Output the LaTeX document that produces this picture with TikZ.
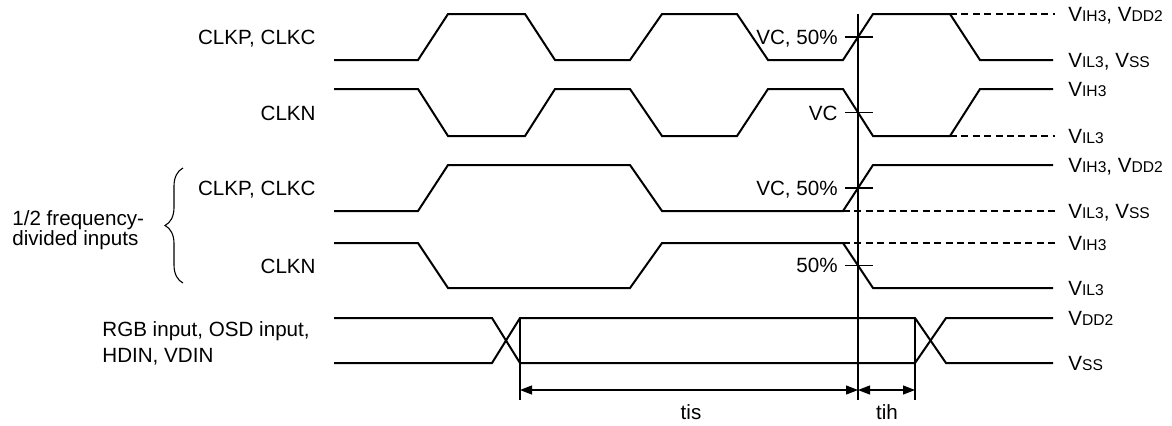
\documentclass[tikz,border=0pt]{standalone}
\usepackage{fontspec}
\setmainfont{Liberation Sans}
\usetikzlibrary{arrows.meta,decorations.pathreplacing}
\newcommand\vsub[1]{{\fontsize{7.8}{9}\selectfont #1}}

\begin{document}
\begin{tikzpicture}[x=0.5pt, y=-0.5pt,
	wave/.style={line width=1pt, line join=miter},
	thinline/.style={line width=0.55pt},
	refline/.style={line width=0.55pt, dash pattern=on 3.5pt off 2.2pt},
	dimline/.style={line width=0.55pt, {Triangle[length=6pt,width=4.5pt]}-{Triangle[length=6pt,width=4.5pt]}},
	lbl/.style={inner sep=0pt, font=\fontsize{10.3}{12}\selectfont, text height=7.4pt, text depth=0pt}]
			%%%%% START %%%%%
			\useasboundingbox (0,0) rectangle (1172,425);
			
			% CLKP, CLKC
			\draw[wave] (334,60) -- (418,60) -- (448,14) -- (525,14) -- (555,60) -- (630,60) -- (662,14) -- (737,14) -- (768,60) -- (843,60) -- (873,14) -- (950,14) -- (980,60) -- (1053,60);
			\draw[refline] (950,14) -- (1055,14);
			
			% CLKN
			\draw[wave] (334,89) -- (418,89) -- (448,136) -- (525,136) -- (555,89) -- (630,89) -- (662,136) -- (737,136) -- (768,89) -- (843,89) -- (873,136) -- (950,136) -- (980,89) -- (1053,89);
			\draw[refline] (950,136) -- (1055,136);
			
			% 1/2 CLKP, CLKC
			\draw[wave] (334,211) -- (418,211) -- (448,165) -- (630,165) -- (662,211) -- (843,211) -- (873,165) -- (1053,165);
			\draw[refline] (843,211) -- (1055,211);
			
			% 1/2 CLKN
			\draw[wave] (334,243) -- (418,243) -- (448,288) -- (630,288) -- (662,243) -- (843,243) -- (873,288) -- (1053,288);
			\draw[refline] (843,243) -- (1055,243);
			
			% data inputs
			\draw[wave] (334,318) -- (492,318) -- (520,363) -- (915,363) -- (946,318) -- (1053,318);
			\draw[wave] (334,363) -- (492,363) -- (520,318) -- (915,318) -- (946,363) -- (1053,363);
			
			% reference and extension lines
			\draw[thinline] (858,14) -- (858,400);
			\draw[thinline] (520,318) -- (520,400);
			\draw[thinline] (915,318) -- (915,400);
			\foreach \ty in {37,112.5,188,265.5}
				\draw[thinline] (845,\ty) -- (873,\ty);
			
			% timing dimensions
			\coordinate (tisA) at (520,390);
			\coordinate (tisB) at (858,390);
			\coordinate (tihB) at (915,390);
			\draw[dimline] (tisA) -- (tisB);
			\draw[dimline] (tisB) -- (tihB);
			\node[lbl] (tis) at (691,412) {tis};
			\node[lbl] (tih) at (887,412) {tih};
			
			% signal names
			\node[lbl, anchor=east] (clkp) at (316,37) {CLKP, CLKC};
			\node[lbl, anchor=east] (clkn) at (316,113) {CLKN};
			\node[lbl, anchor=east] (hclkp) at (316,188) {CLKP, CLKC};
			\node[lbl, anchor=east] (hclkn) at (316,266) {CLKN};
			\node[lbl, anchor=west] (half1) at (12,218) {1/2 frequency-};
			\node[lbl, anchor=west] (half2) at (12,238) {divided inputs};
			\node[lbl, anchor=west] (rgb1) at (102,329) {RGB input, OSD input,};
			\node[lbl, anchor=west] (rgb2) at (102,355) {HDIN, VDIN};
			\draw[thinline, decorate, decoration={brace, amplitude=9pt}] (183,283) -- (183,168);
			
			% levels at the crossing
			\node[lbl, anchor=east] (vc1) at (838,37) {VC, 50\%};
			\node[lbl, anchor=east] (vc2) at (838,113) {VC};
			\node[lbl, anchor=east] (vc3) at (838,188) {VC, 50\%};
			\node[lbl, anchor=east] (vc4) at (838,265) {50\%};
			
			% voltage levels
			\node[lbl, anchor=west] (lv1) at (1068,14) {V\vsub{IH3}, V\vsub{DD2}};
			\node[lbl, anchor=west] (lv2) at (1068,60) {V\vsub{IL3}, V\vsub{SS}};
			\node[lbl, anchor=west] (lv3) at (1068,89) {V\vsub{IH3}};
			\node[lbl, anchor=west] (lv4) at (1068,136) {V\vsub{IL3}};
			\node[lbl, anchor=west] (lv5) at (1068,165) {V\vsub{IH3}, V\vsub{DD2}};
			\node[lbl, anchor=west] (lv6) at (1068,211) {V\vsub{IL3}, V\vsub{SS}};
			\node[lbl, anchor=west] (lv7) at (1068,243) {V\vsub{IH3}};
			\node[lbl, anchor=west] (lv8) at (1068,288) {V\vsub{IL3}};
			\node[lbl, anchor=west] (lv9) at (1068,318) {V\vsub{DD2}};
			\node[lbl, anchor=west] (lv10) at (1068,363) {V\vsub{SS}};
			
			%%%%% END %%%%%
\end{tikzpicture}
\end{document}
